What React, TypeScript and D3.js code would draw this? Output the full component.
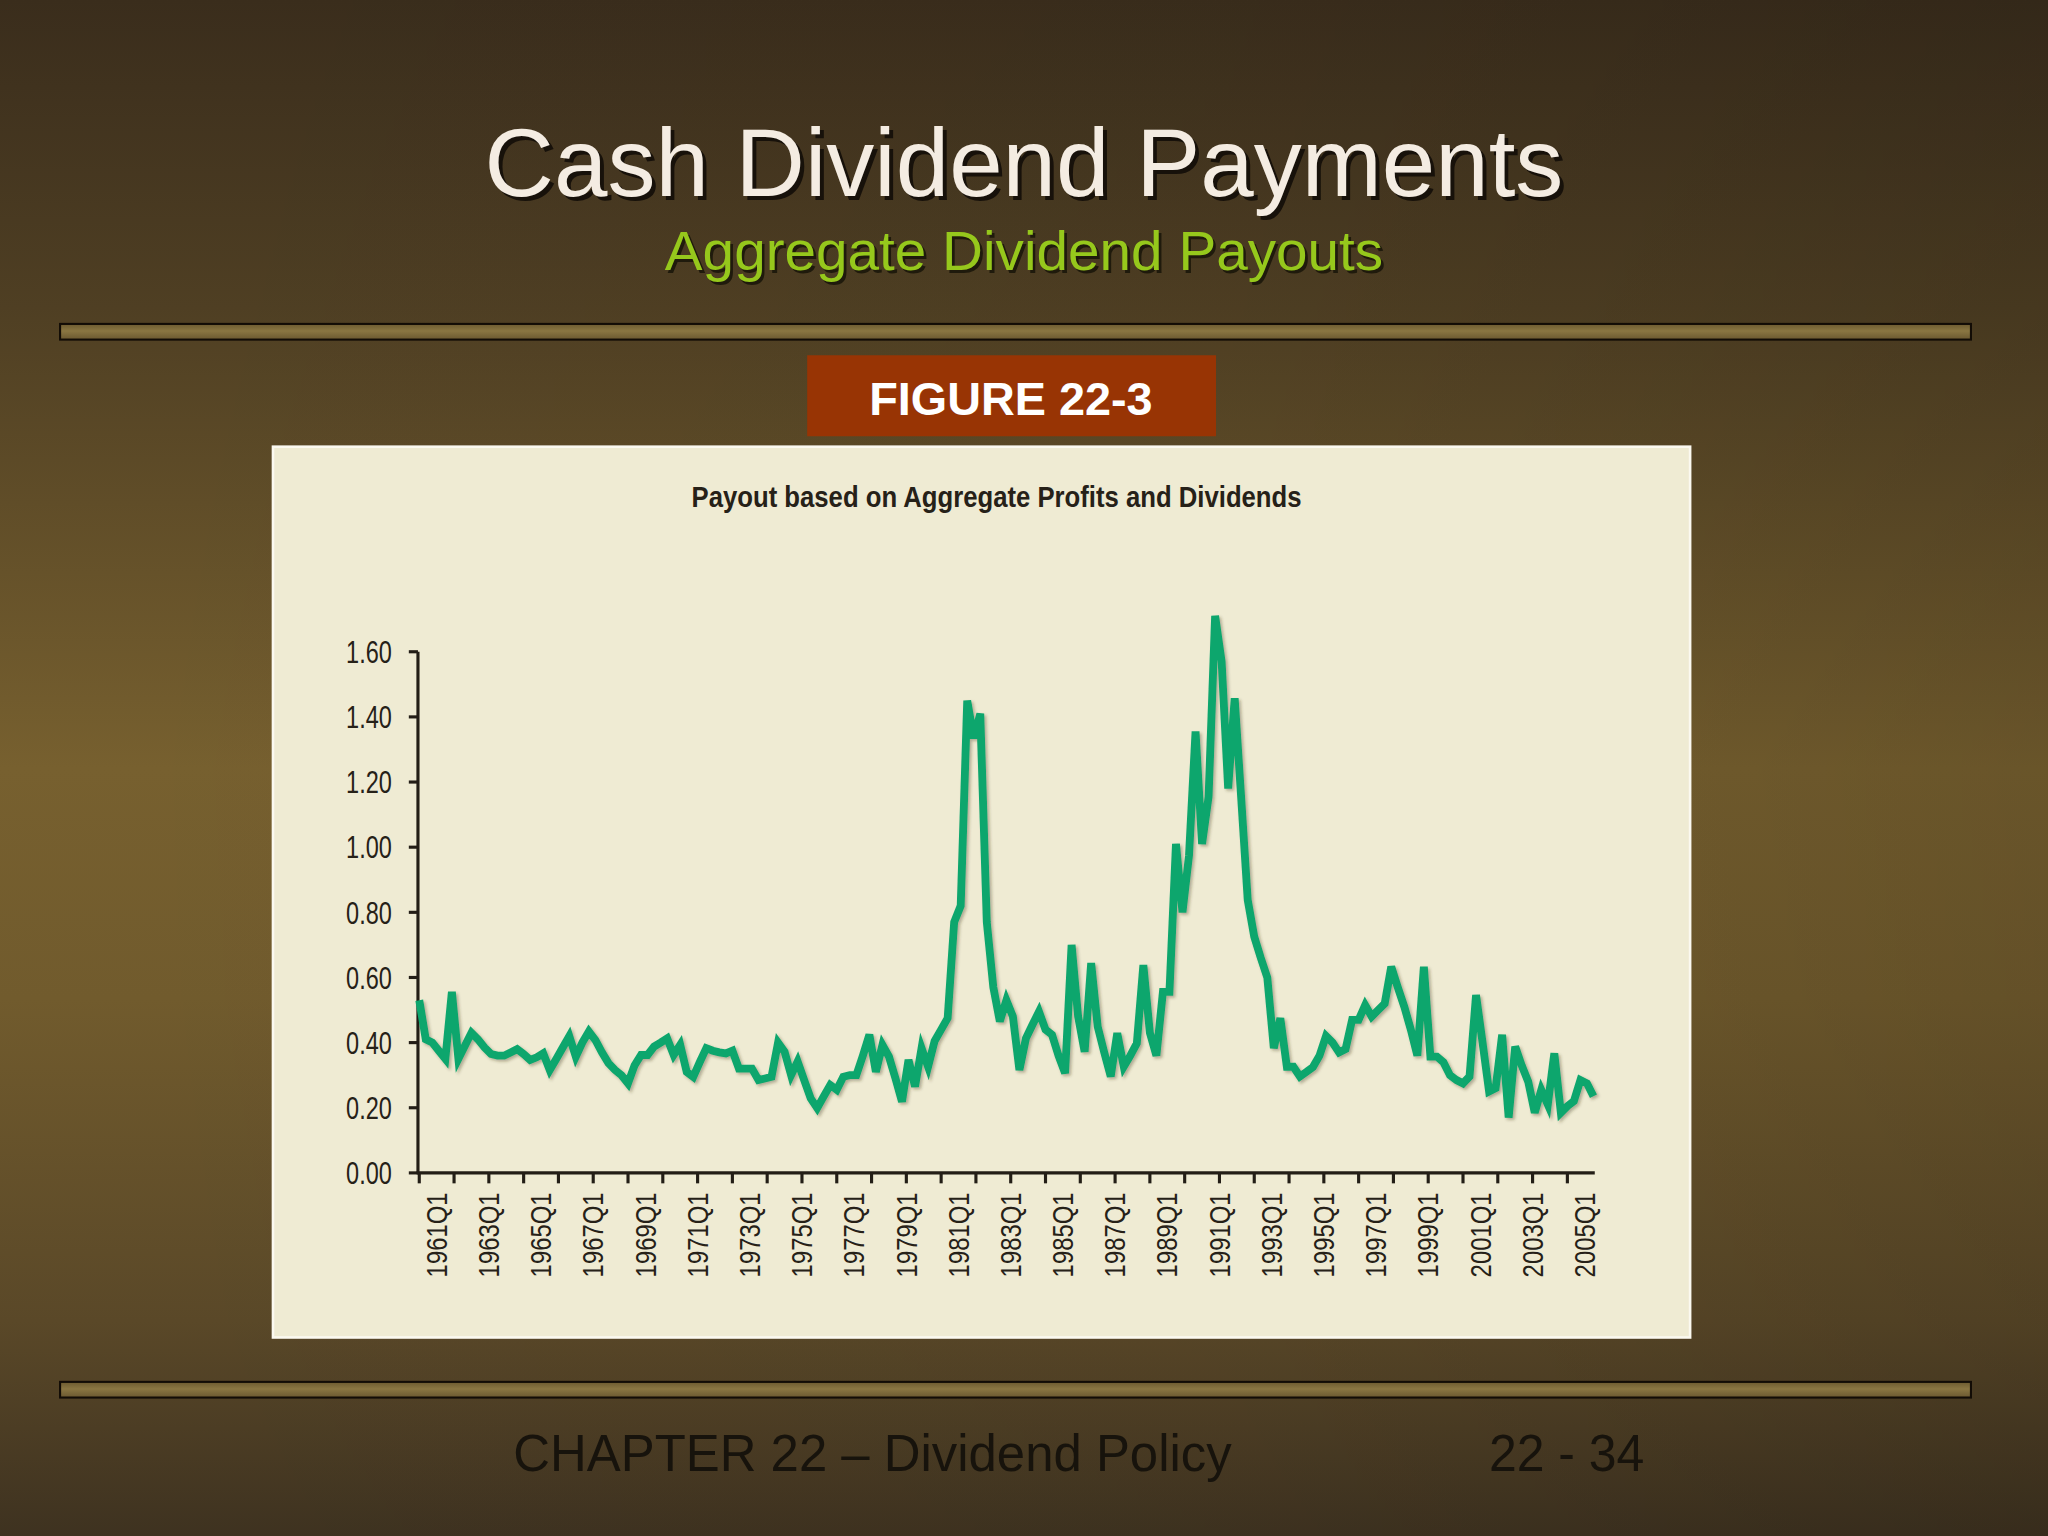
import React from 'react';
import * as d3 from 'd3';

// Aggregate payout ratio, quarterly, first observation 1960Q2
const START_YEAR = 1960;
const START_Q = 2;

const payout = [
  0.53, 0.41, 0.40, 0.375, 0.35, 0.556, 0.35, 0.39, 0.43, 0.41,
  0.385, 0.365, 0.36, 0.36, 0.37, 0.38, 0.365, 0.347, 0.355, 0.367,
  0.316, 0.35, 0.385, 0.42, 0.357, 0.40, 0.434, 0.408, 0.37, 0.337,
  0.316, 0.30, 0.275, 0.33, 0.362, 0.362, 0.388, 0.40, 0.413, 0.362,
  0.393, 0.31, 0.295, 0.34, 0.383, 0.375, 0.37, 0.367, 0.375, 0.32,
  0.32, 0.32, 0.285, 0.29, 0.295, 0.40, 0.372, 0.30, 0.342, 0.285,
  0.229, 0.199, 0.235, 0.27, 0.255, 0.295, 0.30, 0.30, 0.36, 0.424,
  0.31, 0.393, 0.357, 0.29, 0.219, 0.347, 0.265, 0.383, 0.326, 0.405,
  0.44, 0.475, 0.77, 0.82, 1.45, 1.335, 1.41, 0.77, 0.57, 0.465,
  0.53, 0.48, 0.316, 0.413, 0.455, 0.495, 0.44, 0.424, 0.36, 0.306,
  0.70, 0.48, 0.372, 0.644, 0.449, 0.37, 0.296, 0.429, 0.326, 0.36,
  0.398, 0.638, 0.43, 0.36, 0.556, 0.556, 1.01, 0.80, 0.975, 1.355,
  1.01, 1.155, 1.71, 1.57, 1.18, 1.457, 1.15, 0.838, 0.725, 0.66,
  0.60, 0.383, 0.475, 0.326, 0.326, 0.296, 0.31, 0.325, 0.36, 0.42,
  0.40, 0.37, 0.38, 0.47, 0.47, 0.515, 0.48, 0.50, 0.52, 0.633,
  0.57, 0.51, 0.44, 0.36, 0.633, 0.357, 0.357, 0.34, 0.30, 0.285,
  0.275, 0.296, 0.546, 0.40, 0.25, 0.26, 0.424, 0.17, 0.388, 0.33,
  0.28, 0.185, 0.255, 0.21, 0.367, 0.185, 0.205, 0.22, 0.285, 0.275,
  0.235,
];

const quarters = payout.map((_, i) => {
  const q = START_Q - 1 + i;
  return `${START_YEAR + Math.floor(q / 4)}Q${(q % 4) + 1}`;
});

const xLabels = [
  '1961Q1', '1963Q1', '1965Q1', '1967Q1', '1969Q1', '1971Q1', '1973Q1', '1975Q1',
  '1977Q1', '1979Q1', '1981Q1', '1983Q1', '1985Q1', '1987Q1', '1989Q1', '1991Q1',
  '1993Q1', '1995Q1', '1997Q1', '1999Q1', '2001Q1', '2003Q1', '2005Q1',
];

const yTicks = [0, 0.2, 0.4, 0.6, 0.8, 1.0, 1.2, 1.4, 1.6];

const SANS = "'Liberation Sans', Arial, sans-serif";

export default function App() {
  const W = 1568;
  const H = 1176;

  const x = d3.scaleLinear().domain([0, payout.length - 1]).range([321, 1220]);
  const y = d3.scaleLinear().domain([0, 1.6]).range([898, 499]);

  // tick marks every 16/3 quarters, as in the original figure
  const minorTicks = d3.range(0, payout.length - 1, 16 / 3);

  const line = d3.line<number>()
    .x((d, i) => x(i))
    .y(d => y(d));

  return (
    <div style={{ position: 'absolute', left: 0, top: 0, width: 2048, height: 1536, overflow: 'hidden' }}>
      <svg width={2048} height={1536} viewBox={`0 0 ${W} ${H}`} style={{ display: 'block' }}>
        <defs>
          <linearGradient id="bg" x1="0" y1="0" x2="0" y2="1">
            <stop offset="0" stopColor="#3a2d1c" />
            <stop offset="0.2" stopColor="#4f3f23" />
            <stop offset="0.5" stopColor="#77602f" />
            <stop offset="0.65" stopColor="#715b2d" />
            <stop offset="0.86" stopColor="#5a4828" />
            <stop offset="1" stopColor="#3e3220" />
          </linearGradient>
          <linearGradient id="side" x1="0" y1="0" x2="1" y2="0">
            <stop offset="0" stopColor="#000" stopOpacity="0" />
            <stop offset="0.6" stopColor="#000" stopOpacity="0.03" />
            <stop offset="1" stopColor="#000" stopOpacity="0.12" />
          </linearGradient>
          <linearGradient id="bar" x1="0" y1="0" x2="0" y2="1">
            <stop offset="0" stopColor="#6c5a30" />
            <stop offset="0.45" stopColor="#8a7642" />
            <stop offset="1" stopColor="#6a5830" />
          </linearGradient>
          <filter id="lineShadow" x="-5%" y="-5%" width="110%" height="110%">
            <feDropShadow dx="1.5" dy="1.5" stdDeviation="1.2" floodColor="#3a3020" floodOpacity="0.35" />
          </filter>
        </defs>

        <rect x={0} y={0} width={W} height={H} fill="url(#bg)" />
        <rect x={0} y={0} width={W} height={H} fill="url(#side)" />

        {/* slide titles */}
        <text x={787} y={153} textAnchor="middle" fontFamily={SANS} fontSize={74} fill="#17110a"
          textLength={826} lengthAdjust="spacingAndGlyphs">Cash Dividend Payments</text>
        <text x={784} y={150} textAnchor="middle" fontFamily={SANS} fontSize={74} fill="#f4ece2"
          textLength={826} lengthAdjust="spacingAndGlyphs">Cash Dividend Payments</text>
        <text x={786} y={209} textAnchor="middle" fontFamily={SANS} fontSize={43} fill="#1f1a0c"
          textLength={550} lengthAdjust="spacingAndGlyphs">Aggregate Dividend Payouts</text>
        <text x={784} y={207} textAnchor="middle" fontFamily={SANS} fontSize={43} fill="#96c81c"
          textLength={550} lengthAdjust="spacingAndGlyphs">Aggregate Dividend Payouts</text>

        {/* separator bars */}
        <rect x={46} y={248} width={1463} height={12} fill="url(#bar)" stroke="#120c06" strokeWidth={1.6} />
        <rect x={46} y={1058} width={1463} height={12} fill="url(#bar)" stroke="#120c06" strokeWidth={1.6} />

        {/* figure tag */}
        <rect x={618} y={272} width={313} height={62} fill="#983404" />
        <text x={774} y={318} textAnchor="middle" fontFamily={SANS} fontWeight="bold" fontSize={36}
          fill="#ffffff" textLength={217} lengthAdjust="spacingAndGlyphs">FIGURE 22-3</text>

        {/* chart panel */}
        <rect x={209} y={342} width={1085} height={682} fill="#efebd3" stroke="#fbf9f0" strokeWidth={2} />
        <text x={763} y={388} textAnchor="middle" fontFamily={SANS} fontWeight="bold" fontSize={22}
          fill="#262118" textLength={467} lengthAdjust="spacingAndGlyphs">
          Payout based on Aggregate Profits and Dividends
        </text>

        {/* y axis */}
        <line x1={320} x2={320} y1={y(1.6)} y2={y(0)} stroke="#231e16" strokeWidth={2.4} />
        {yTicks.map(t => (
          <g key={t}>
            <line x1={313} x2={320} y1={y(t)} y2={y(t)} stroke="#231e16" strokeWidth={2.4} />
            <text x={300} y={y(t)} dy="0.36em" textAnchor="end" fontFamily={SANS} fontSize={24}
              fill="#262118" textLength={35} lengthAdjust="spacingAndGlyphs">{t.toFixed(2)}</text>
          </g>
        ))}

        {/* x axis */}
        <line x1={319} x2={1221} y1={y(0)} y2={y(0)} stroke="#231e16" strokeWidth={2.4} />
        {minorTicks.map(t => (
          <line key={t} x1={x(t)} x2={x(t)} y1={y(0)} y2={y(0) + 8} stroke="#231e16" strokeWidth={2.4} />
        ))}
        {xLabels.map(lab => {
          const px = x(quarters.indexOf(lab)) - 1.5;
          return (
            <text key={lab} transform={`translate(${px},913) rotate(-90)`} textAnchor="end"
              dominantBaseline="central" fontFamily={SANS} fontSize={22} fill="#262118"
              textLength={65} lengthAdjust="spacingAndGlyphs">{lab}</text>
          );
        })}

        {/* payout series */}
        <path d={line(payout) || ''} fill="none" stroke="#10a66d" strokeWidth={6}
          strokeLinejoin="miter" strokeMiterlimit={4} filter="url(#lineShadow)" />

        {/* footer */}
        <text x={393} y={1126} fontFamily={SANS} fontSize={39} fill="#17130c"
          textLength={550} lengthAdjust="spacingAndGlyphs">CHAPTER 22 – Dividend Policy</text>
        <text x={1140} y={1126} fontFamily={SANS} fontSize={39} fill="#17130c"
          textLength={119} lengthAdjust="spacingAndGlyphs">22 - 34</text>
      </svg>
    </div>
  );
}
